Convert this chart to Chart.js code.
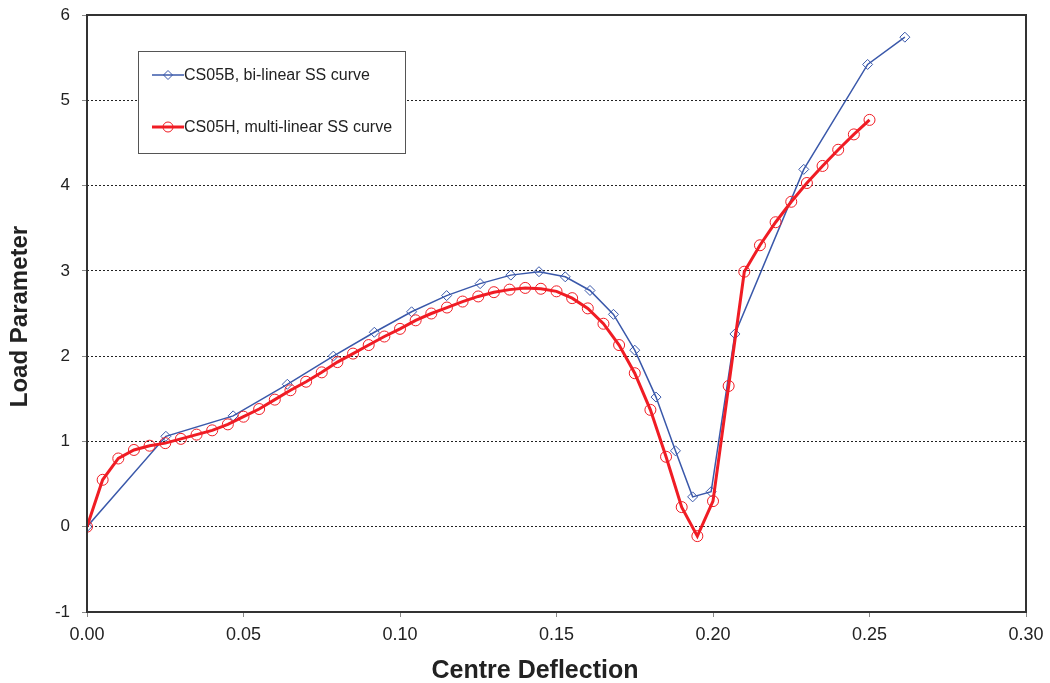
<!DOCTYPE html>
<html>
<head>
<meta charset="utf-8">
<script src="https://cdn.jsdelivr.net/npm/chart.js@4/dist/chart.umd.min.js"></script>
<style>
  html, body { margin: 0; padding: 0; background: #fff; }
  #wrap { width: 1050px; height: 683px; }
</style>
</head>
<body>
<div id="wrap"><canvas id="chart" width="1050" height="683"></canvas></div>
<script>
// CS05B, bi-linear SS curve (deflection, load)
const bX = [0, 0.0252, 0.0467, 0.064, 0.0787, 0.0918, 0.1037, 0.1149, 0.1256, 0.1354, 0.1444, 0.1528,
            0.1607, 0.1682, 0.175, 0.1818, 0.188, 0.1935, 0.1994, 0.207, 0.229, 0.2494, 0.2613];
const bY = [0, 1.06, 1.30, 1.67, 2.00, 2.28, 2.52, 2.71, 2.85, 2.95, 2.99, 2.93,
            2.77, 2.49, 2.07, 1.52, 0.89, 0.35, 0.41, 2.26, 4.19, 5.42, 5.74];

// CS05H, multi-linear SS curve, every 0.005 of deflection
const hX = [0, 0.005, 0.01, 0.015, 0.02, 0.025, 0.03, 0.035, 0.04, 0.045, 0.05, 0.055, 0.06, 0.065,
            0.07, 0.075, 0.08, 0.085, 0.09, 0.095, 0.10, 0.105, 0.11, 0.115, 0.12, 0.125, 0.13,
            0.135, 0.14, 0.145, 0.15, 0.155, 0.16, 0.165, 0.17, 0.175, 0.18, 0.185, 0.19, 0.195,
            0.20, 0.205, 0.21, 0.215, 0.22, 0.225, 0.23, 0.235, 0.24, 0.245, 0.25];
const hY = [0, 0.55, 0.80, 0.90, 0.95, 0.98, 1.03, 1.08, 1.13, 1.20, 1.29, 1.38, 1.49, 1.60,
            1.70, 1.81, 1.93, 2.03, 2.13, 2.23, 2.32, 2.42, 2.50, 2.57, 2.64, 2.70, 2.75,
            2.78, 2.80, 2.79, 2.76, 2.68, 2.56, 2.38, 2.13, 1.80, 1.37, 0.82, 0.23, -0.11,
            0.30, 1.65, 2.99, 3.30, 3.57, 3.81, 4.03, 4.23, 4.42, 4.60, 4.77];

const seriesNames = ['CS05B, bi-linear SS curve', 'CS05H, multi-linear SS curve'];
const xTitle = 'Centre Deflection';
const yTitle = 'Load Parameter';

const blue = 'rgb(58,88,170)';
const red = 'rgb(240,28,36)';
const fam = '"Liberation Sans", Arial, sans-serif';

function pairs(xs, ys) { return xs.map((x, i) => ({x: x, y: ys[i]})); }

/* Box round the plot, axis titles and the legend inside the plot. */
const framePlugin = {
    id: 'frame',
    afterDraw(chart) {
        const ctx = chart.ctx;
        const a = chart.chartArea;
        ctx.save();
        ctx.strokeStyle = '#333';
        ctx.lineWidth = 2;
        ctx.strokeRect(a.left, a.top, a.right - a.left, a.bottom - a.top);

        // axis titles
        ctx.fillStyle = '#222';
        ctx.textAlign = 'center';
        ctx.textBaseline = 'alphabetic';
        ctx.font = 'bold 25px ' + fam;
        ctx.fillText(xTitle, 535, 678);
        ctx.save();
        ctx.translate(27, (a.top + a.bottom) / 2 + 3);
        ctx.rotate(-Math.PI / 2);
        ctx.font = 'bold 24px ' + fam;
        ctx.fillText(yTitle, 0, 0);
        ctx.restore();

        // legend
        const lx = 138, ly = 51, lw = 267, lh = 102;
        ctx.fillStyle = '#fff';
        ctx.fillRect(lx, ly, lw, lh);
        ctx.strokeStyle = '#555';
        ctx.lineWidth = 1;
        ctx.strokeRect(lx + 0.5, ly + 0.5, lw, lh);
        ctx.font = '16px ' + fam;
        ctx.textAlign = 'left';
        ctx.textBaseline = 'middle';
        chart.data.datasets.forEach((ds, i) => {
            const y = ly + 24 + i * 52;
            const mx = lx + 30;
            ctx.strokeStyle = ds.borderColor;
            ctx.lineWidth = ds.borderWidth;
            ctx.beginPath();
            ctx.moveTo(lx + 14, y);
            ctx.lineTo(lx + 46, y);
            ctx.stroke();
            ctx.lineWidth = 1;
            ctx.beginPath();
            if (ds.pointStyle === 'rectRot') {
                const r = 4.5;
                ctx.moveTo(mx, y - r);
                ctx.lineTo(mx + r, y);
                ctx.lineTo(mx, y + r);
                ctx.lineTo(mx - r, y);
                ctx.closePath();
            } else {
                ctx.arc(mx, y, 5, 0, Math.PI * 2);
            }
            ctx.stroke();
            ctx.fillStyle = '#222';
            ctx.fillText(ds.label, lx + 46, y + 1);
        });
        ctx.restore();
    }
};

new Chart(document.getElementById('chart'), {
    type: 'scatter',
    data: {
        datasets: [
            {label: seriesNames[0], data: pairs(bX, bY), showLine: true, borderColor: blue, borderWidth: 1.5,
             pointStyle: 'rectRot', pointRadius: 5, pointBorderWidth: 1, pointBorderColor: blue,
             pointBackgroundColor: 'rgba(0,0,0,0)', backgroundColor: 'rgba(0,0,0,0)', order: 1},
            {label: seriesNames[1], data: pairs(hX, hY), showLine: true, borderColor: red, borderWidth: 3,
             pointStyle: 'circle', pointRadius: 5.5, pointBorderWidth: 1, pointBorderColor: red,
             pointBackgroundColor: 'rgba(0,0,0,0)', backgroundColor: 'rgba(0,0,0,0)', order: 0}
        ]
    },
    options: {
        responsive: false,
        animation: false,
        layout: {padding: {top: 15, right: 24, left: 0, bottom: 0}},
        plugins: {legend: {display: false}, tooltip: {enabled: false}},
        scales: {
            x: {
                type: 'linear', min: 0, max: 0.30,
                afterFit(s) { s.height = 71; s.paddingLeft = 0; s.paddingRight = 0; },
                ticks: {stepSize: 0.05, padding: 7, color: '#222', font: {family: fam, size: 18},
                        callback: v => v.toFixed(2)},
                grid: {drawOnChartArea: false, drawTicks: true, tickLength: 5, tickColor: '#888', tickWidth: 1},
                border: {display: false}
            },
            y: {
                min: -1, max: 6,
                afterFit(s) { s.width = 87; s.paddingTop = 0; s.paddingBottom = 0; },
                ticks: {stepSize: 1, padding: 12, color: '#222', font: {family: fam, size: 17}},
                grid: {color: '#222', lineWidth: 1, tickLength: 5, tickColor: '#888', tickWidth: 1, tickBorderDash: []},
                border: {display: false, dash: [2, 2]}
            }
        }
    },
    plugins: [framePlugin]
});
</script>
</body>
</html>
